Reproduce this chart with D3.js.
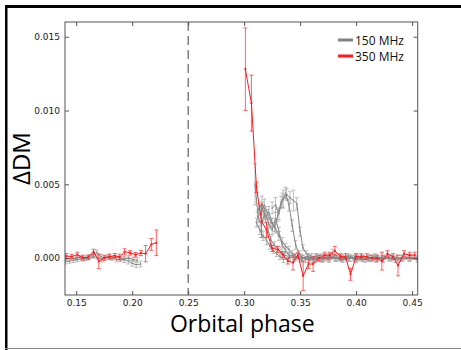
<!DOCTYPE html>
<html><head><meta charset="utf-8">
<script src="https://cdn.jsdelivr.net/npm/d3@7"></script>
<style>body{margin:0;background:#fff}svg{display:block}</style>
</head><body>
<svg id="c" width="461" height="350"></svg>
<script>
// ---- data: [orbital phase, ΔDM, error] ----
const xTicks = [0.15, 0.20, 0.25, 0.30, 0.35, 0.40, 0.45];
const yTicks = [0.000, 0.005, 0.010, 0.015];
const legendLabels = ["150 MHz", "350 MHz"];
const eclipsePhase = 0.25;

const red350Left = [[0.1411,0.00014,0.00017],[0.1461,0.00011,0.00015],[0.1509,0.00023,0.00017],[0.1559,0.00003,0.00017],[0.1607,0.00005,0.00015],[0.1655,0.00043,0.00017],[0.1702,-0.00022,0.0005],[0.1750,0.00003,0.00017],[0.1798,0.0001,0.00017],[0.1845,0.00016,0.00015],[0.1887,0.00007,0.0002],[0.1932,0.00043,0.0002],[0.1983,0.00036,0.00015],[0.2030,0.00023,0.00015],[0.2078,0.00034,0.00017],[0.2120,0.0003,0.00055],[0.2171,0.00093,0.0004],[0.2216,0.00104,0.00087]];
const red350Right = [[0.3011,0.0128,0.0028],[0.3065,0.0105,0.0019],[0.3110,0.0048,0.00035],[0.3155,0.0025,0.0011],[0.3200,0.0019,0.0005],[0.3250,0.00065,0.0002],[0.3300,0.0006,0.0002],[0.3345,0.00025,0.0002],[0.3390,-0.0002,0.0002],[0.3437,-0.0003,0.0005],[0.3480,0.0002,0.0002],[0.3527,-0.0012,0.001],[0.3575,-0.0004,0.0003],[0.3616,-0.0004,0.0005],[0.3670,0.0000,0.0002],[0.3720,0.0002,0.0002],[0.3765,0.0002,0.0002],[0.3810,0.0005,0.0003],[0.3860,0.0001,0.0002],[0.3905,0.0001,0.0002],[0.3950,-0.0011,0.0004],[0.4000,0.0001,0.0002],[0.4045,0.0001,0.0002],[0.4095,0.0001,0.0002],[0.4140,0.0000,0.0002],[0.4190,0.0000,0.0002],[0.4230,-0.0002,0.0006],[0.4280,0.0003,0.0002],[0.4330,0.0001,0.0002],[0.4374,-0.0005,0.0007],[0.4428,0.0003,0.0002],[0.4478,0.0002,0.0002],[0.4523,0.0002,0.0002]];

const gray150L1 = [[0.1405,-0.00025,0.00015],[0.1440,-0.0002,0.00015],[0.1475,-0.00015,0.00015],[0.1510,-0.0001,0.00015],[0.1545,-0.00005,0.00015],[0.1580,0.0000,0.00015],[0.1615,0.0001,0.00015],[0.1650,0.0002,0.00015],[0.1685,0.0004,0.00015],[0.1720,0.0001,0.00015],[0.1755,0.0000,0.00015],[0.1790,0.0001,0.00015],[0.1825,0.0000,0.00015],[0.1860,-0.0001,0.00015],[0.1895,-0.0001,0.00015],[0.1930,-0.0001,0.0002],[0.1965,-0.0002,0.0002],[0.2000,-0.00035,0.0002],[0.2035,-0.00045,0.0002],[0.2075,-0.0004,0.0002]];
const gray150L2 = [[0.1410,-0.00005,0.00012],[0.1450,0.00000,0.00012],[0.1490,-0.00005,0.00012],[0.1530,0.00005,0.00012],[0.1570,-0.00005,0.00012],[0.1610,0.00000,0.00012],[0.1650,0.00010,0.00012],[0.1690,0.00005,0.00012],[0.1730,-0.00010,0.00015],[0.1770,0.00005,0.00012],[0.1810,0.00000,0.00012],[0.1850,0.00005,0.00012],[0.1890,0.00000,0.00012],[0.1930,-0.00005,0.00012],[0.1970,0.00000,0.00015],[0.2010,-0.00010,0.00015],[0.2045,-0.00015,0.00015]];

const gray150R1 = [[0.3097,0.0050,0.0014],[0.3125,0.0028,0.0004],[0.3155,0.0022,0.0003],[0.3180,0.0030,0.0004],[0.3210,0.0020,0.0003],[0.3240,0.0012,0.0003],[0.3270,0.0009,0.0002],[0.3300,0.0006,0.0002],[0.3330,0.0004,0.0002],[0.3360,0.0002,0.0002],[0.3400,0.0001,0.0002],[0.3450,0.0000,0.0002],[0.3500,0.0001,0.0002],[0.3550,-0.0001,0.0002],[0.3600,0.0000,0.0002],[0.3650,0.0001,0.0002],[0.3700,0.0000,0.0002],[0.3750,0.0000,0.0001],[0.3800,0.0001,0.0001],[0.3850,0.0000,0.0001],[0.3900,0.0000,0.0001],[0.3950,0.0001,0.0001],[0.4000,0.0000,0.0001],[0.4050,0.0000,0.0001],[0.4100,-0.0001,0.0001],[0.4150,0.0000,0.0001],[0.4200,0.0000,0.0001],[0.4250,0.0001,0.0001],[0.4300,0.0000,0.0001],[0.4350,0.0000,0.0001],[0.4400,-0.0001,0.0001],[0.4450,0.0000,0.0001],[0.4500,0.0000,0.0001],[0.4550,0.0000,0.0001]];
const gray150R2 = [[0.3120,0.0028,0.0003],[0.3150,0.0031,0.0004],[0.3180,0.0036,0.0004],[0.3210,0.0030,0.0003],[0.3240,0.0024,0.0003],[0.3270,0.0021,0.0003],[0.3300,0.0029,0.0004],[0.3330,0.0038,0.0004],[0.3350,0.0040,0.0006],[0.3380,0.0043,0.0004],[0.3410,0.0041,0.0004],[0.3440,0.0039,0.0007],[0.3470,0.0037,0.0004],[0.3500,0.0018,0.0003],[0.3525,0.0007,0.0002],[0.3555,0.0003,0.0002],[0.3600,0.0001,0.0002],[0.3650,0.0000,0.0002],[0.3700,0.0001,0.0002],[0.3750,0.0000,0.0002],[0.3790,0.0003,0.0003],[0.3850,0.0000,0.0002],[0.3920,0.0000,0.0002],[0.4000,0.0000,0.0002],[0.4080,-0.0001,0.0002],[0.4160,0.0000,0.0002],[0.4240,0.0000,0.0002],[0.4320,0.0000,0.0002],[0.4400,0.0000,0.0002],[0.4480,0.0000,0.0002],[0.4550,0.0000,0.0002]];
const gray150R3 = [[0.3130,0.0033,0.0004],[0.3160,0.0037,0.0005],[0.3190,0.0031,0.0004],[0.3220,0.0023,0.0003],[0.3250,0.0019,0.0003],[0.3280,0.0027,0.0004],[0.3310,0.0018,0.0003],[0.3340,0.0009,0.0002],[0.3370,0.0005,0.0002],[0.3400,0.0002,0.0002],[0.3450,0.0001,0.0002],[0.3510,-0.0001,0.0002],[0.3570,0.0001,0.0002],[0.3630,-0.0001,0.0002],[0.3690,0.0000,0.0002],[0.3750,0.0001,0.0002],[0.3810,0.0000,0.0002],[0.3870,0.0000,0.0002],[0.3930,0.0001,0.0002],[0.3990,0.0000,0.0002],[0.4050,0.0000,0.0002],[0.4110,0.0000,0.0002],[0.4170,0.0001,0.0002],[0.4230,0.0000,0.0002],[0.4290,0.0000,0.0002],[0.4350,-0.0001,0.0002],[0.4410,0.0000,0.0002],[0.4470,0.0000,0.0002],[0.4550,-0.0001,0.0002]];
const gray150R4 = [[0.3110,0.0024,0.0003],[0.3140,0.0019,0.0003],[0.3170,0.0015,0.0003],[0.3200,0.0012,0.0003],[0.3230,0.0008,0.0002],[0.3260,0.0005,0.0002],[0.3290,0.0003,0.0002],[0.3320,0.0001,0.0002],[0.3350,-0.0001,0.0002],[0.3400,0.0000,0.0002],[0.3460,0.0001,0.0002],[0.3520,0.0000,0.0002],[0.3580,-0.0001,0.0002],[0.3640,0.0000,0.0002],[0.3700,-0.0001,0.0002],[0.3760,0.0000,0.0002],[0.3820,0.0000,0.0002],[0.3880,-0.0001,0.0002],[0.3940,0.0000,0.0002],[0.4000,-0.0001,0.0002],[0.4060,0.0000,0.0002],[0.4120,0.0000,0.0002],[0.4180,-0.0001,0.0002]];
const gray150R5 = [[0.3160,0.0034,0.0004],[0.3190,0.0028,0.0004],[0.3220,0.0031,0.0004],[0.3250,0.0024,0.0003],[0.3280,0.0020,0.0003],[0.3310,0.0015,0.0003],[0.3340,0.0011,0.0003],[0.3370,0.0008,0.0002],[0.3400,0.0006,0.0002],[0.3430,0.0003,0.0002],[0.3460,0.0001,0.0002],[0.3520,0.0000,0.0002],[0.3580,0.0000,0.0002],[0.3640,0.0001,0.0002],[0.3700,0.0000,0.0002],[0.3760,-0.0001,0.0002],[0.3820,0.0000,0.0002],[0.3880,0.0000,0.0002],[0.3940,0.0000,0.0002],[0.4000,0.0001,0.0002],[0.4060,0.0000,0.0002],[0.4120,0.0000,0.0002],[0.4180,0.0000,0.0002],[0.4240,-0.0001,0.0002],[0.4300,0.0000,0.0002],[0.4360,0.0000,0.0002],[0.4420,0.0000,0.0002],[0.4480,0.0000,0.0002],[0.4550,0.0000,0.0002]];
const gray150R6 = [[0.3250,0.0034,0.0004],[0.3280,0.0036,0.0005],[0.3310,0.0030,0.0004],[0.3340,0.0039,0.0005],[0.3370,0.0044,0.0004],[0.3400,0.0036,0.0004],[0.3430,0.0022,0.0004],[0.3460,0.0009,0.0003],[0.3490,0.0003,0.0002],[0.3520,0.0000,0.0002],[0.3570,0.0001,0.0002],[0.3620,-0.0001,0.0002],[0.3670,0.0000,0.0002],[0.3720,0.0000,0.0002],[0.3770,0.0001,0.0002],[0.3820,0.0000,0.0002],[0.3870,0.0000,0.0002],[0.3920,0.0000,0.0002],[0.3970,0.0000,0.0002],[0.4020,0.0000,0.0002]];

const graySeries = [gray150L1, gray150L2, gray150R1, gray150R2, gray150R3, gray150R4, gray150R5, gray150R6];
const redSeries = [red350Left, red350Right];

// ---- drawing ----
const svg = d3.select("#c");
const L = 65, R = 417.7, T = 22, B = 295;
const x = d3.scaleLinear().domain([0.14, 0.455]).range([L, R]);
const y = d3.scaleLinear().domain([-0.0025, 0.016]).range([B, T]);

// outer frame
svg.append("rect").attr("x", 5).attr("y", 5).attr("width", 456).attr("height", 3).attr("fill", "#000");
svg.append("rect").attr("x", 5).attr("y", 5).attr("width", 2.5).attr("height", 345).attr("fill", "#000");
svg.append("line").attr("x1", 5).attr("x2", 461).attr("y1", 348.5).attr("y2", 348.5).attr("stroke", "#888").attr("stroke-width", 1);

svg.append("clipPath").attr("id", "pc").append("rect")
  .attr("x", L).attr("y", T).attr("width", R - L).attr("height", B - T);

const plot = svg.append("g").attr("clip-path", "url(#pc)");

// eclipse marker
plot.append("line").attr("x1", x(eclipsePhase)).attr("x2", x(eclipsePhase))
  .attr("y1", T).attr("y2", B).attr("stroke", "#444").attr("stroke-width", 1)
  .attr("stroke-dasharray", "9,5");

const line = d3.line().x(d => x(d[0])).y(d => y(d[1]));

function drawSeries(data, lineColor, errColor, cap, r) {
  const g = plot.append("g");
  const eb = g.append("g").attr("stroke", errColor).attr("stroke-width", 1).attr("fill", "none");
  data.forEach(d => {
    const xx = x(d[0]), y1 = y(d[1] - d[2]), y2 = y(d[1] + d[2]);
    eb.append("line").attr("x1", xx).attr("x2", xx).attr("y1", y1).attr("y2", y2);
    eb.append("line").attr("x1", xx - cap).attr("x2", xx + cap).attr("y1", y1).attr("y2", y1);
    eb.append("line").attr("x1", xx - cap).attr("x2", xx + cap).attr("y1", y2).attr("y2", y2);
  });
  g.append("path").datum(data).attr("d", line).attr("fill", "none")
    .attr("stroke", lineColor).attr("stroke-width", 1);
  g.selectAll("circle").data(data).join("circle")
    .attr("cx", d => x(d[0])).attr("cy", d => y(d[1])).attr("r", r).attr("fill", lineColor);
}
graySeries.forEach(s => drawSeries(s, "#868686", "rgba(165,165,165,0.7)", 2, 0.8));
redSeries.forEach(s => drawSeries(s, "#ff1a1a", "rgba(255,60,60,0.8)", 2, 1.1));

// axes
const tickFont = g => g.selectAll("text").attr("font-family", "DejaVu Sans").attr("font-size", 9).attr("fill", "#222");
const styleAx = g => { g.select(".domain").remove(); g.selectAll(".tick line").attr("stroke", "#555"); };

svg.append("g").attr("transform", `translate(0,${B})`)
  .call(d3.axisBottom(x).tickValues(xTicks).tickFormat(d3.format(".2f")).tickSizeInner(-4).tickSizeOuter(0).tickPadding(5))
  .call(styleAx).call(tickFont);
svg.append("g").attr("transform", `translate(0,${T})`)
  .call(d3.axisTop(x).tickValues(xTicks).tickFormat("").tickSizeInner(-4).tickSizeOuter(0))
  .call(styleAx);
svg.append("g").attr("transform", `translate(${L},0)`)
  .call(d3.axisLeft(y).tickValues(yTicks).tickFormat(d3.format(".3f")).tickSizeInner(-4).tickSizeOuter(0).tickPadding(5))
  .call(styleAx).call(tickFont);
svg.append("g").attr("transform", `translate(${R},0)`)
  .call(d3.axisRight(y).tickValues(yTicks).tickFormat("").tickSizeInner(-4).tickSizeOuter(0))
  .call(styleAx);

svg.append("rect").attr("x", L).attr("y", T).attr("width", R - L).attr("height", B - T)
  .attr("fill", "none").attr("stroke", "#555").attr("stroke-width", 1);

// axis labels
svg.append("text").attr("x", (L + R) / 2 + 1).attr("y", 332).attr("text-anchor", "middle")
  .attr("font-family", "Open Sans").attr("font-size", 23).attr("fill", "#000").text("Orbital phase");
svg.append("text").attr("transform", `translate(30,${(T + B) / 2}) rotate(-90)`).attr("text-anchor", "middle")
  .attr("font-family", "Open Sans").attr("font-size", 24).attr("fill", "#000").text("ΔDM");

// legend
const legColors = ["#808080", "#ff1a1a"];
legendLabels.forEach((lab, i) => {
  const yy = 40 + i * 16;
  svg.append("line").attr("x1", 338).attr("x2", 353).attr("y1", yy).attr("y2", yy)
    .attr("stroke", legColors[i]).attr("stroke-width", 3);
  svg.append("text").attr("x", 355).attr("y", yy + 4.5).attr("font-family", "Open Sans")
    .attr("font-size", 12).attr("fill", "#111").text(lab);
});
</script>
</body></html>
